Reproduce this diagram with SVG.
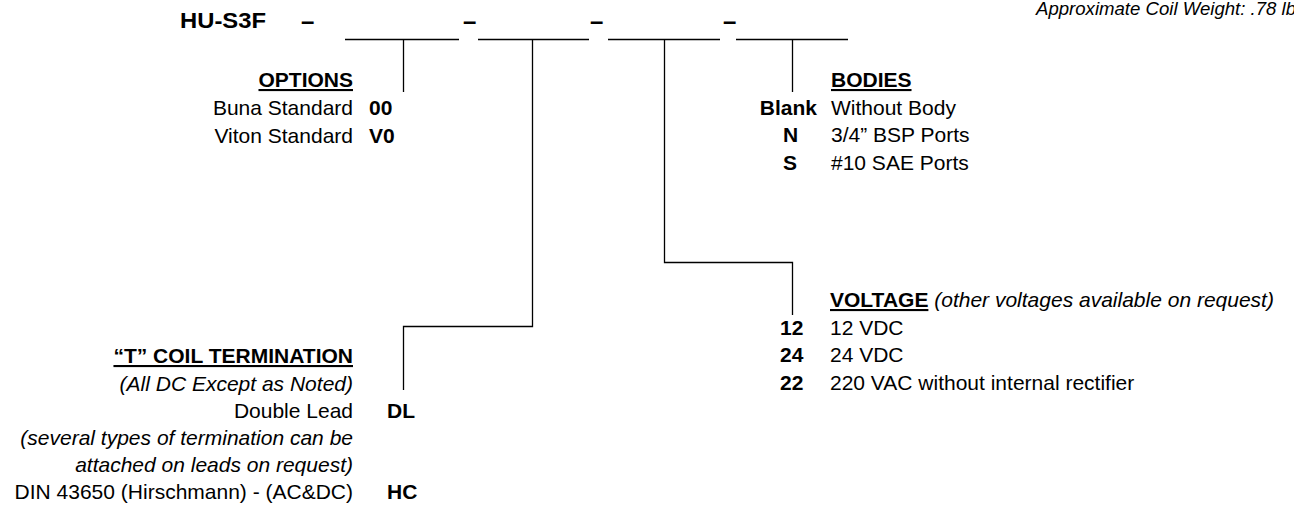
<svg xmlns="http://www.w3.org/2000/svg" width="1294" height="506" viewBox="0 0 1294 506">
<style>
text{font-family:"Liberation Sans",Arial,sans-serif;font-size:21px;fill:#000}
.b{font-weight:bold}
.i{font-style:italic}
.u{text-decoration:underline}
.r{text-anchor:end}
.d{font-weight:bold;font-size:24px}
.ln{stroke:#000;stroke-width:1.3;fill:none}
</style>
<rect width="1294" height="506" fill="#fff"/>
<g id="header">
<text class="b" x="180" y="28" style="font-size:22px" textLength="86" lengthAdjust="spacingAndGlyphs">HU-S3F</text>
<text class="d" x="301" y="29">–</text>
<text class="d" x="463" y="29">–</text>
<text class="d" x="590" y="29">–</text>
<text class="d" x="723" y="29">–</text>
<text class="i" x="1036" y="15" style="font-size:18.6px">Approximate Coil Weight: .78 lb</text>
</g>
<g id="connectors">
<line class="ln" x1="345" y1="39.5" x2="459" y2="39.5"/>
<line class="ln" x1="478" y1="39.5" x2="589" y2="39.5"/>
<line class="ln" x1="608" y1="39.5" x2="720" y2="39.5"/>
<line class="ln" x1="736" y1="39.5" x2="848" y2="39.5"/>
<line class="ln" x1="403.5" y1="39.5" x2="403.5" y2="92"/>
<polyline class="ln" points="532.5,39.5 532.5,326.5 403.5,326.5 403.5,390"/>
<polyline class="ln" points="664.5,39.5 664.5,262.5 792.5,262.5 792.5,315"/>
<line class="ln" x1="792.5" y1="39.5" x2="792.5" y2="92"/>
</g>
<g id="options">
<text class="b u r" x="353" y="87">OPTIONS</text>
<text class="r" x="353" y="115">Buna Standard</text>
<text class="b" x="369" y="115">00</text>
<text class="r" x="353" y="143">Viton Standard</text>
<text class="b" x="369" y="143">V0</text>
</g>
<g id="bodies">
<text class="b u" x="831" y="87">BODIES</text>
<text class="b r" x="817" y="115">Blank</text>
<text x="831" y="115">Without Body</text>
<text class="b" x="783" y="142">N</text>
<text x="831" y="142">3/4” BSP Ports</text>
<text class="b" x="783" y="170">S</text>
<text x="831" y="170">#10 SAE Ports</text>
</g>
<g id="voltage">
<text x="830" y="307"><tspan class="b u">VOLTAGE</tspan> <tspan class="i">(other voltages available on request)</tspan></text>
<text class="b" x="780" y="335">12</text>
<text x="830" y="335">12 VDC</text>
<text class="b" x="780" y="362">24</text>
<text x="830" y="362">24 VDC</text>
<text class="b" x="780" y="390">22</text>
<text x="830" y="390">220 VAC without internal rectifier</text>
</g>
<g id="termination">
<text class="b u r" x="353" y="363">“T” COIL TERMINATION</text>
<text class="i r" x="353" y="391">(All DC Except as Noted)</text>
<text class="r" x="353" y="418">Double Lead</text>
<text class="b" x="387" y="418">DL</text>
<text class="i r" x="353" y="445">(several types of termination can be</text>
<text class="i r" x="353" y="472">attached on leads on request)</text>
<text class="r" x="353" y="499">DIN 43650 (Hirschmann) - (AC&amp;DC)</text>
<text class="b" x="387" y="499">HC</text>
</g>
</svg>
